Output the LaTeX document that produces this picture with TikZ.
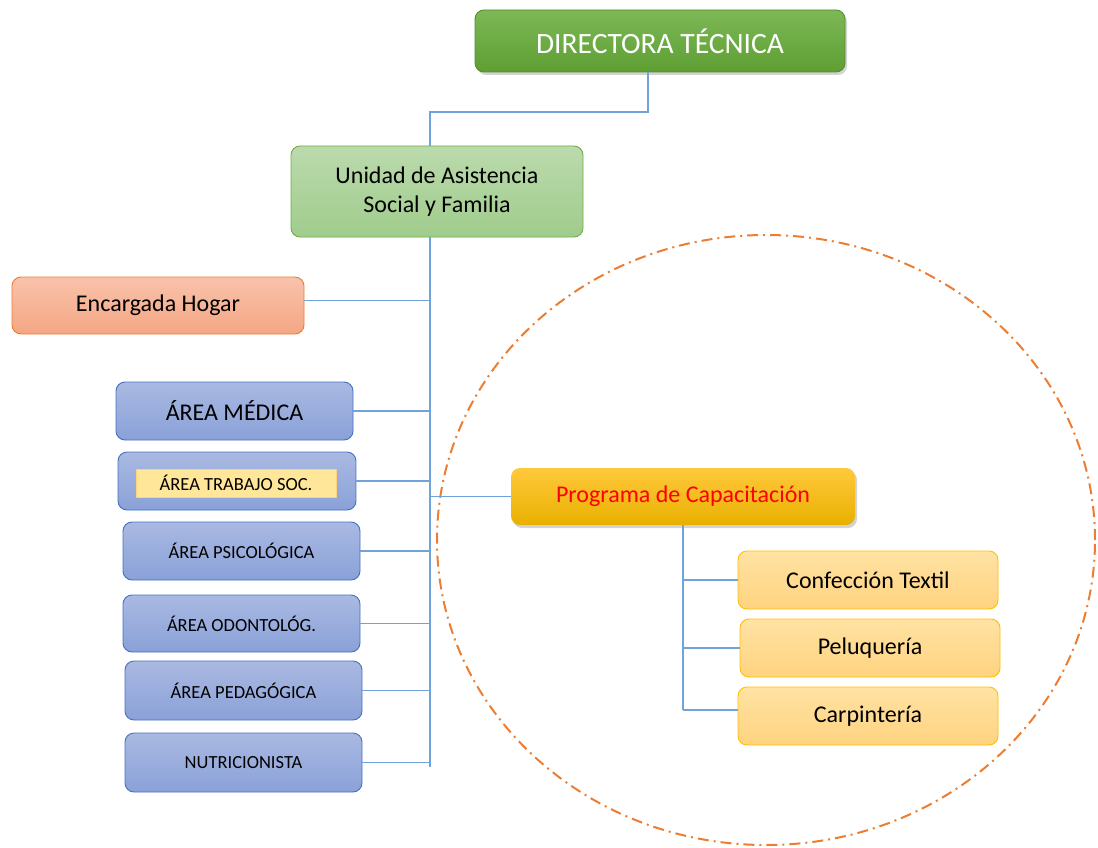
\documentclass[tikz,border=0pt]{standalone}
\usepackage{fontspec}
\setmainfont{Carlito}
\usetikzlibrary{shadows,calc}
\definecolor{lineblue}{HTML}{6FA3DA}
\definecolor{dotorange}{HTML}{ED7D31}
\definecolor{gtop}{HTML}{7DB957}
\definecolor{gbot}{HTML}{5E9E33}
\definecolor{ltop}{HTML}{BBDAAD}
\definecolor{lbot}{HTML}{A0CC8C}
\definecolor{lbord}{HTML}{70AD47}
\definecolor{stop}{HTML}{F8C3AB}
\definecolor{sbot}{HTML}{F4A683}
\definecolor{btop}{HTML}{AAB9E2}
\definecolor{bbot}{HTML}{8AA1D8}
\definecolor{bbord}{HTML}{4472C4}
\definecolor{ytop}{HTML}{FFC93C}
\definecolor{ybot}{HTML}{E9B000}
\definecolor{otop}{HTML}{FFE2A3}
\definecolor{obot}{HTML}{FFD37F}
\definecolor{obord}{HTML}{FFC000}
\definecolor{inner}{HTML}{FFE699}
\tikzset{
  box/.style={rounded corners=9pt, align=center, inner sep=2pt, line width=0.9pt},
  greenbox/.style={box, top color=gtop, bottom color=gbot, draw=gbot!90!black, text=white,
     drop shadow={shadow xshift=2pt, shadow yshift=-3pt, opacity=0.35}},
  lgreenbox/.style={box, top color=ltop, bottom color=lbot, draw=lbord},
  salmonbox/.style={box, top color=stop, bottom color=sbot, draw=dotorange},
  bluebox/.style={box, top color=btop, bottom color=bbot, draw=bbord},
  goldbox/.style={box, top color=ytop, bottom color=ybot, draw=none, text=red,
     drop shadow={shadow xshift=2pt, shadow yshift=-3pt, opacity=0.35}},
  orangebox/.style={box, top color=otop, bottom color=obot, draw=obord},
  conn/.style={draw=lineblue, line width=1.1pt},
  big/.style={font=\fontsize{29.5}{34}\selectfont},
  mid/.style={font=\fontsize{24}{29}\selectfont},
  small/.style={font=\fontsize{18.5}{22}\selectfont},
}
\begin{document}
\begin{tikzpicture}[x=1pt,y=1pt]
\useasboundingbox (0,0) rectangle (1098,-848);
% dashed ellipse
\draw[dotorange, line width=2pt, dash pattern=on 11pt off 5pt on 2pt off 5pt]
  (766,-540) ellipse [x radius=329, y radius=305];

\coordinate (tk) at (430,0);
\coordinate (tkbot) at (430,-767);
\coordinate (j1) at (648,-112);
\coordinate (sk) at (683,0);

\node[greenbox, big, minimum width=370pt, minimum height=62pt] (dir) at (660,-41) {DIRECTORA TÉCNICA};
\node[lgreenbox, mid, minimum width=292pt, minimum height=91pt] (uni) at (437,-191.5) {Unidad de Asistencia\\Social y Familia};
\node[salmonbox, mid, minimum width=292pt, minimum height=57pt] (hog) at (158,-305.5) {Encargada Hogar};
\node[bluebox, mid, minimum width=237pt, minimum height=58pt] (med) at (234.5,-411) {ÁREA MÉDICA};
\node[bluebox, minimum width=238pt, minimum height=58pt] (tra) at (237,-481) {};
\node[small, fill=inner, draw=inner!80!orange, line width=0.5pt, minimum width=200pt, minimum height=28pt, inner sep=0pt] (trai) at (236,-483) {ÁREA TRABAJO SOC.};
\node[bluebox, small, minimum width=237pt, minimum height=58pt] (psi) at (241.5,-551) {ÁREA PSICOLÓGICA};
\node[bluebox, small, minimum width=237pt, minimum height=57pt] (odo) at (241.5,-623.5) {ÁREA ODONTOLÓG.};
\node[bluebox, small, minimum width=237pt, minimum height=59pt] (ped) at (243.5,-690.5) {ÁREA PEDAGÓGICA};
\node[bluebox, small, minimum width=237pt, minimum height=59pt] (nut) at (243.5,-762.5) {NUTRICIONISTA};

\node[goldbox, mid, minimum width=344pt, minimum height=57pt] (pro) at (683,-496.5) {Programa de Capacitación};
\node[orangebox, mid, minimum width=260pt, minimum height=58pt] (con) at (868,-580) {Confección Textil};
\node[orangebox, mid, minimum width=260pt, minimum height=58pt] (pel) at (870,-648) {Peluquería};
\node[orangebox, mid, minimum width=260pt, minimum height=58pt] (car) at (868,-716) {Carpintería};

% connectors
\draw[conn] (dir.south -| j1) -- (j1) -| (uni.north -| tk);
\draw[conn] (uni.south -| tk) -- (tkbot);
\draw[conn] ([yshift=5pt]hog.east) -- ([yshift=5pt]hog.east -| tk);
\draw[conn] (med.east) -- (med.east -| tk);
\draw[conn] (tra.east) -- (tra.east -| tk);
\draw[conn] (psi.east) -- (psi.east -| tk);
\draw[conn] (odo.east) -- (odo.east -| tk);
\draw[conn] (ped.east) -- (ped.east -| tk);
\draw[conn] (nut.east) -- (nut.east -| tk);
\draw[conn] (pro.west -| tk) -- (pro.west);
\draw[conn] (pro.south -| sk) -- ([yshift=6pt]car.west -| sk);
\draw[conn] (con.west -| sk) -- (con.west);
\draw[conn] (pel.west -| sk) -- (pel.west);
\draw[conn] ([yshift=6pt]car.west -| sk) -- ([yshift=6pt]car.west);
\end{tikzpicture}
\end{document}
